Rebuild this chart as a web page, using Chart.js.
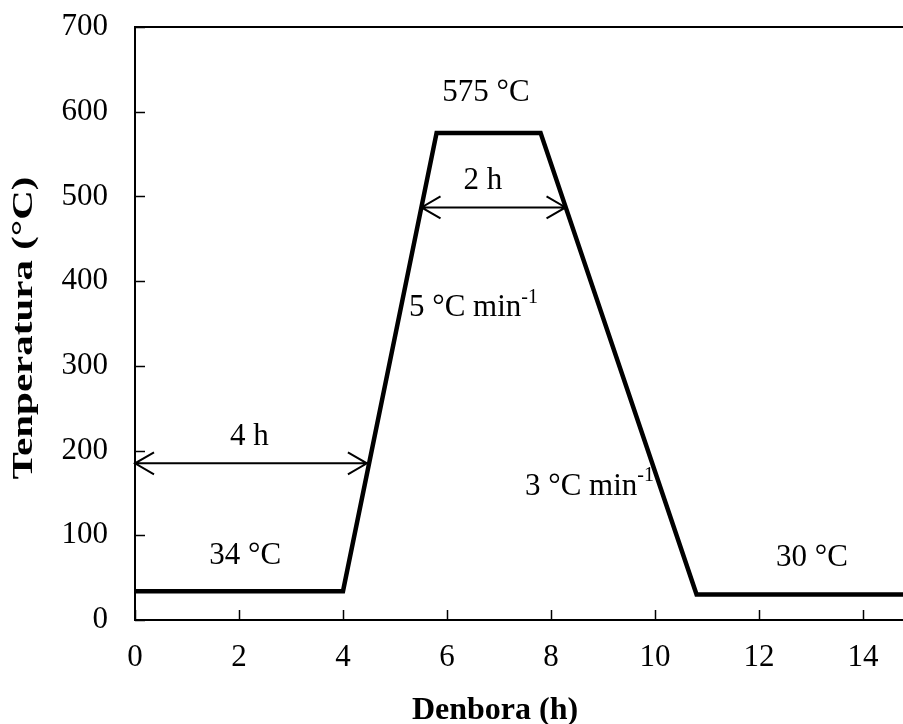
<!DOCTYPE html>
<html>
<head>
<meta charset="utf-8">
<script src="https://cdn.jsdelivr.net/npm/chart.js@4.4.1/dist/chart.umd.min.js"></script>
<style>
  html, body { margin: 0; padding: 0; background: #fff; }
  canvas { display: block; }
</style>
</head>
<body>
<canvas id="tempChart" width="903" height="724"></canvas>
<script>
// Heating programme: time (h) vs furnace temperature (°C)
const times = [0, 4, 5.8, 7.8, 10.8, 14.77];
const temps = [34, 34, 575, 575, 30, 30];

const xStep = 2;
const yStep = 100;
const yMax = 700;

const xTitle = 'Denbora (h)';
const yTitle = 'Tenperatura (°C)';

// double-headed arrows: [from h, to h, at °C]
const spanFrom = [0, 5.51];
const spanTo = [4.46, 8.28];
const spanLevel = [185, 487];

// free text notes placed in data units
const notes = [
  { text: '575 °C', x: 6.75, y: 622, align: 'center' },
  { text: '2 h', x: 6.69, y: 518, align: 'center' },
  { text: '4 h', x: 2.2, y: 216, align: 'center' },
  { text: '34 °C', x: 2.12, y: 76, align: 'center' },
  { text: '30 °C', x: 13.02, y: 73, align: 'center' },
  { text: '5 °C min', sup: '-1', x: 5.27, y: 368, align: 'left' },
  { text: '3 °C min', sup: '-1', x: 7.5, y: 157, align: 'left' }
];

const FONT = 'Liberation Serif, Times New Roman, serif';

const decorations = {
  id: 'decorations',
  afterDraw(chart) {
    const { ctx, chartArea, scales } = chart;
    const xs = scales.x, ys = scales.y;
    ctx.save();
    ctx.strokeStyle = '#000';
    ctx.fillStyle = '#000';

    // top frame line
    ctx.lineWidth = 2;
    ctx.beginPath();
    ctx.moveTo(chartArea.left - 1, chartArea.top);
    ctx.lineTo(chartArea.right, chartArea.top);
    ctx.stroke();

    // tick marks pointing inward
    ctx.lineWidth = 1.5;
    ys.ticks.forEach(t => {
      const py = Math.round(ys.getPixelForValue(t.value)) + 0.5;
      ctx.beginPath();
      ctx.moveTo(chartArea.left, py);
      ctx.lineTo(chartArea.left + 10, py);
      ctx.stroke();
    });
    xs.ticks.forEach(t => {
      const px = Math.round(xs.getPixelForValue(t.value)) + 0.5;
      ctx.beginPath();
      ctx.moveTo(px, chartArea.bottom);
      ctx.lineTo(px, chartArea.bottom - 10);
      ctx.stroke();
    });

    // arrows
    ctx.lineWidth = 2;
    spanFrom.forEach((from, i) => {
      const x1 = xs.getPixelForValue(from);
      const x2 = xs.getPixelForValue(spanTo[i]);
      const y = ys.getPixelForValue(spanLevel[i]);
      ctx.beginPath();
      ctx.moveTo(x1, y);
      ctx.lineTo(x2, y);
      ctx.moveTo(x1 + 19, y - 11);
      ctx.lineTo(x1, y);
      ctx.lineTo(x1 + 19, y + 11);
      ctx.moveTo(x2 - 19, y - 11);
      ctx.lineTo(x2, y);
      ctx.lineTo(x2 - 19, y + 11);
      ctx.stroke();
    });

    // text notes
    ctx.textBaseline = 'middle';
    notes.forEach(n => {
      const px = xs.getPixelForValue(n.x);
      const py = ys.getPixelForValue(n.y);
      ctx.font = '31px ' + FONT;
      ctx.textAlign = n.align;
      ctx.fillText(n.text, px, py);
      if (n.sup) {
        const w = ctx.measureText(n.text).width;
        const sx = n.align === 'left' ? px + w : px + w / 2;
        ctx.font = '20px ' + FONT;
        ctx.textAlign = 'left';
        ctx.fillText(n.sup, sx, py - 11);
      }
    });

    // axis titles
    ctx.font = 'bold 32px ' + FONT;
    ctx.textAlign = 'center';
    ctx.fillText(xTitle, 495, 711);

    ctx.translate(24, 328);
    ctx.rotate(-Math.PI / 2);
    ctx.font = 'bold 30px ' + FONT;
    const tw = ctx.measureText(yTitle).width;
    ctx.scale(303 / tw, 1);
    ctx.fillText(yTitle, 0, 0);
    ctx.restore();
  }
};

const ctx = document.getElementById('tempChart').getContext('2d');

new Chart(ctx, {
  type: 'line',
  data: {
    datasets: [{
      data: times.map((t, i) => ({ x: t, y: temps[i] })),
      borderColor: '#000',
      borderWidth: 4.5,
      pointRadius: 0,
      tension: 0,
      fill: false
    }]
  },
  options: {
    responsive: false,
    animation: false,
    layout: { padding: { top: 27, right: 0, left: 0, bottom: 0 } },
    plugins: {
      legend: { display: false },
      tooltip: { enabled: false }
    },
    scales: {
      x: {
        type: 'linear',
        min: 0,
        max: times[times.length - 1],
        afterFit(scale) {
          scale.height = 104;
          scale.paddingLeft = 0;
          scale.paddingRight = 0;
        },
        ticks: {
          stepSize: xStep,
          includeBounds: false,
          color: '#000',
          padding: 19,
          font: { family: FONT, size: 31 }
        },
        grid: { drawOnChartArea: false, drawTicks: false },
        border: { color: '#000', width: 2 }
      },
      y: {
        min: 0,
        max: yMax,
        afterFit(scale) {
          scale.width = 135;
          scale.paddingTop = 0;
          scale.paddingBottom = 0;
        },
        ticks: {
          stepSize: yStep,
          color: '#000',
          padding: 27,
          font: { family: FONT, size: 31 }
        },
        grid: { drawOnChartArea: false, drawTicks: false },
        border: { color: '#000', width: 2 }
      }
    }
  },
  plugins: [decorations]
});
</script>
</body>
</html>
